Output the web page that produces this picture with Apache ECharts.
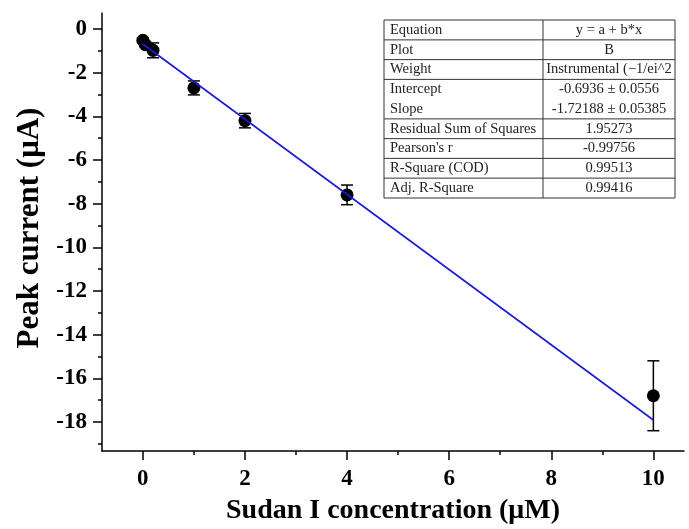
<!DOCTYPE html>
<html>
<head>
<meta charset="utf-8">
<script src="https://cdn.jsdelivr.net/npm/echarts@6/dist/echarts.min.js"></script>
<style>
  html, body { margin: 0; padding: 0; background: #fff; }
  #chart { width: 689px; height: 529px; }
</style>
</head>
<body>
<div id="chart"></div>
<script>
// measured points (Sudan I, uM) and peak currents (uA) with error bars
const concentrations = [0.0, 0.05, 0.2, 1, 2, 4, 10]
const peakCurrents = [-0.52, -0.72, -0.98, -2.7, -4.2, -7.6, -16.8]
const errors = [0.1, 0.1, 0.34, 0.32, 0.33, 0.45, 1.6]

// linear fit drawn in the picture
const fitX = [0, 10]
const fitY = [-0.69, -17.91]

const xMajorTicks = [0, 2, 4, 6, 8, 10]
const xMinorTicks = [1, 3, 5, 7, 9]
const yMajorTicks = [0, -2, -4, -6, -8, -10, -12, -14, -16, -18]
const yMinorTicks = [-1, -3, -5, -7, -9, -11, -13, -15, -17, -19]

const tableLabels = ['Equation', 'Plot', 'Weight', 'Intercept', 'Slope',
  'Residual Sum of Squares', "Pearson's r", 'R-Square (COD)', 'Adj. R-Square']
const tableValues = ['y = a + b*x', 'B', 'Instrumental (\u22121/ei^2', '-0.6936 \u00b1 0.0556',
  '-1.72188 \u00b1 0.05385', '1.95273', '-0.99756', '0.99513', '0.99416']

const serif = 'Liberation Serif, Times New Roman, serif'
const chart = echarts.init(document.getElementById('chart'))

// table drawn as graphic elements
const tLeft = 384, tRight = 675, tMid = 543, tTop = 20, tBottom = 198
const rowStep = 19.75
const tableEls = []
tableEls.push({
  type: 'rect',
  shape: { x: tLeft, y: tTop, width: tRight - tLeft, height: tBottom - tTop },
  style: { fill: '#fff', stroke: '#333', lineWidth: 1 },
  z: 10
})
tableEls.push({
  type: 'line',
  shape: { x1: tMid, y1: tTop, x2: tMid, y2: tBottom },
  style: { stroke: '#333', lineWidth: 1 },
  z: 11
})
tableLabels.forEach((label, i) => {
  const cy = 30 + rowStep * i
  tableEls.push({
    type: 'text', x: tLeft + 6, y: cy, z: 12,
    style: { text: label, font: '14.5px ' + serif, fill: '#222', verticalAlign: 'middle' }
  })
  tableEls.push({
    type: 'text', x: (tMid + tRight) / 2, y: cy, z: 12,
    style: { text: tableValues[i], font: '14.5px ' + serif, fill: '#222', align: 'center', verticalAlign: 'middle' }
  })
  // no divider between Intercept and Slope
  if (i < tableLabels.length - 1 && i !== 3) {
    const ly = cy + rowStep / 2
    tableEls.push({
      type: 'line',
      shape: { x1: tLeft, y1: ly, x2: tRight, y2: ly },
      style: { stroke: '#333', lineWidth: 1 },
      z: 11
    })
  }
})

tableEls.push({
  type: 'text', x: 30, y: 228, rotation: Math.PI / 2,
  style: { text: 'Peak current (\u03bcA)', font: 'bold 31px ' + serif, fill: '#000', align: 'center', verticalAlign: 'middle' }
})
tableEls.push({
  type: 'text', x: 393, y: 511,
  style: { text: 'Sudan I concentration (\u03bcM)', font: 'bold 28px ' + serif, fill: '#000', align: 'center', verticalAlign: 'middle' }
})

const axisLine = { show: true, onZero: false, lineStyle: { color: '#000', width: 1.5 } }
const tickLabel = { color: '#000', fontFamily: serif, fontWeight: 'bold', fontSize: 23 }

chart.setOption({
  animation: false,
  backgroundColor: '#fff',
  grid: { left: 102, right: 5, top: 13, bottom: 78, containLabel: false, outerBoundsMode: 'none' },
  xAxis: [
    {
      type: 'value', min: -0.8, max: 10.6, position: 'bottom',
      axisLine,
      axisTick: { show: true, customValues: xMajorTicks, length: 9, lineStyle: { color: '#000', width: 1.5 } },
      axisLabel: Object.assign({ customValues: xMajorTicks, margin: 17 }, tickLabel),
      splitLine: { show: false }
    },
    {
      type: 'value', min: -0.8, max: 10.6, position: 'bottom',
      axisLine: { show: false, onZero: false },
      axisTick: { show: true, customValues: xMinorTicks, length: 4, lineStyle: { color: '#000', width: 1.5 } },
      axisLabel: { show: false },
      splitLine: { show: false }
    }
  ],
  yAxis: [
    {
      type: 'value', min: -19.33, max: 0.73, position: 'left',
      axisLine,
      axisTick: { show: true, customValues: yMajorTicks, length: 9, lineStyle: { color: '#000', width: 1.5 } },
      axisLabel: Object.assign({ customValues: yMajorTicks, margin: 15 }, tickLabel),
      splitLine: { show: false }
    },
    {
      type: 'value', min: -19.33, max: 0.73, position: 'left',
      axisLine: { show: false, onZero: false },
      axisTick: { show: true, customValues: yMinorTicks, length: 4, lineStyle: { color: '#000', width: 1.5 } },
      axisLabel: { show: false },
      splitLine: { show: false }
    }
  ],
  graphic: tableEls,
  series: [
    {
      type: 'custom',
      xAxisIndex: 0,
      yAxisIndex: 0,
      z: 2,
      data: concentrations.map((c, i) => [c, peakCurrents[i], errors[i]]),
      renderItem(params, api) {
        const x = api.value(0)
        const y = api.value(1)
        const e = api.value(2)
        const top = api.coord([x, y + e])
        const bot = api.coord([x, y - e])
        const hw = 6
        const style = { stroke: '#000', lineWidth: 1.5 }
        return {
          type: 'group',
          children: [
            { type: 'line', shape: { x1: top[0], y1: top[1], x2: bot[0], y2: bot[1] }, style },
            { type: 'line', shape: { x1: top[0] - hw, y1: top[1], x2: top[0] + hw, y2: top[1] }, style },
            { type: 'line', shape: { x1: bot[0] - hw, y1: bot[1], x2: bot[0] + hw, y2: bot[1] }, style }
          ]
        }
      }
    },
    {
      type: 'scatter',
      xAxisIndex: 0,
      yAxisIndex: 0,
      z: 3,
      symbol: 'circle',
      symbolSize: 13,
      itemStyle: { color: '#000', opacity: 1 },
      data: concentrations.map((c, i) => [c, peakCurrents[i]])
    },
    {
      type: 'line',
      xAxisIndex: 0,
      yAxisIndex: 0,
      z: 4,
      symbol: 'none',
      lineStyle: { color: '#1a1ad8', width: 1.6 },
      data: fitX.map((x, i) => [x, fitY[i]])
    }
  ]
})
</script>
</body>
</html>
